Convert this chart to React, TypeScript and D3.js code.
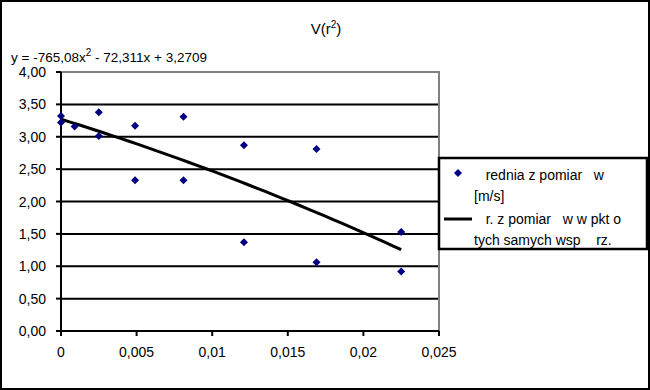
import * as d3 from "d3";
import { useEffect, useRef } from "react";

// measured points: x = r^2, y = velocity [m/s]
const xValues = [0, 0, 0.0009, 0.0025, 0.0025, 0.0049, 0.0049, 0.0081, 0.0081, 0.0121, 0.0121, 0.0169, 0.0169, 0.0225, 0.0225];
const yValues = [3.32, 3.22, 3.16, 3.38, 3.01, 3.17, 2.33, 3.31, 2.33, 2.87, 1.37, 2.81, 1.06, 1.53, 0.92];

// polynomial trendline coefficients (a x^2 + b x + c)
const trendCoefs = [-765.08, -72.311, 3.2709];
const trendRange = [0, 0.0225];

const yTicks = [0, 0.5, 1, 1.5, 2, 2.5, 3, 3.5, 4];
const xTicks = [0, 0.005, 0.01, 0.015, 0.02, 0.025];

const title = "V(r";
const legendLabels = [
  ["   rednia z pomiar   w", "[m/s]"],
  ["   r. z pomiar   w w pkt o", "tych samych wsp    rz."],
];

const W = 650;
const H = 390;

const App = () => {
  const ref = useRef<SVGSVGElement>(null);

  useEffect(() => {
    document.body.style.margin = "0";
    if (!ref.current) return;
    const svg = d3.select(ref.current);
    svg.selectAll("*").remove();
    const font = "Liberation Sans, Arial, sans-serif";

    svg.append("rect").attr("width", W).attr("height", H).attr("fill", "white");
    // outer frame
    svg.append("rect")
      .attr("x", 1).attr("y", 1).attr("width", W - 2).attr("height", H - 2)
      .attr("fill", "none").attr("stroke", "black").attr("stroke-width", 2);

    const x = d3.scaleLinear().domain([0, 0.025]).range([61, 439]);
    const y = d3.scaleLinear().domain([0, 4]).range([331, 72]);

    // title
    const t = svg.append("text")
      .attr("x", 326).attr("y", 34)
      .attr("text-anchor", "middle")
      .style("font-family", font).style("font-size", "15px")
      .text(title);
    t.append("tspan").attr("dy", -6).style("font-size", "10px").text("2");
    t.append("tspan").attr("dy", 6).text(")");

    // equation
    const eq = svg.append("text")
      .attr("x", 11).attr("y", 62)
      .style("font-family", font).style("font-size", "13.5px")
      .text(`y = ${trendCoefs[0].toString().replace(".", ",")}x`);
    eq.append("tspan").attr("dy", -6).style("font-size", "10px").text("2");
    eq.append("tspan").attr("dy", 6)
      .text(` - ${Math.abs(trendCoefs[1]).toString().replace(".", ",")}x + ${trendCoefs[2].toString().replace(".", ",")}`);

    const g = svg.append("g");

    // gridlines
    g.selectAll("line.grid")
      .data(yTicks.filter((d) => d > 0 && d < 4))
      .enter()
      .append("line")
      .attr("x1", x(0)).attr("x2", x(0.025))
      .attr("y1", (d) => y(d)).attr("y2", (d) => y(d))
      .attr("stroke", "black").attr("stroke-width", 2);

    // plot border top/right (gray)
    g.append("path")
      .attr("d", `M${x(0)},${y(4)}H${x(0.025)}V${y(0)}`)
      .attr("fill", "none").attr("stroke", "#808080").attr("stroke-width", 2);

    // axes
    g.append("line")
      .attr("x1", x(0)).attr("x2", x(0)).attr("y1", y(4)).attr("y2", y(0))
      .attr("stroke", "black").attr("stroke-width", 2);
    g.append("line")
      .attr("x1", x(0)).attr("x2", x(0.025)).attr("y1", y(0)).attr("y2", y(0))
      .attr("stroke", "black").attr("stroke-width", 2);

    // y ticks + labels
    g.selectAll("line.yt")
      .data(yTicks)
      .enter()
      .append("line")
      .attr("x1", x(0) - 5).attr("x2", x(0))
      .attr("y1", (d) => y(d)).attr("y2", (d) => y(d))
      .attr("stroke", "black").attr("stroke-width", 2);
    g.selectAll("text.yl")
      .data(yTicks)
      .enter()
      .append("text")
      .attr("x", 46).attr("y", (d) => y(d) + 5)
      .attr("text-anchor", "end")
      .style("font-family", font).style("font-size", "14px")
      .text((d) => d3.format(".2f")(d).replace(".", ","));

    // x ticks + labels
    g.selectAll("line.xt")
      .data(xTicks)
      .enter()
      .append("line")
      .attr("x1", (d) => x(d)).attr("x2", (d) => x(d))
      .attr("y1", y(0)).attr("y2", y(0) + 5)
      .attr("stroke", "black").attr("stroke-width", 2);
    g.selectAll("text.xl")
      .data(xTicks)
      .enter()
      .append("text")
      .attr("x", (d) => x(d)).attr("y", 357)
      .attr("text-anchor", "middle")
      .style("font-family", font).style("font-size", "14px")
      .text((d) => d.toString().replace(".", ","));

    // trendline
    const poly = (v: number) => trendCoefs[0] * v * v + trendCoefs[1] * v + trendCoefs[2];
    const samples = d3.range(0, 41).map((i) => trendRange[0] + ((trendRange[1] - trendRange[0]) * i) / 40);
    const line = d3.line<number>().x((d) => x(d)).y((d) => y(poly(d)));
    g.append("path")
      .attr("d", line(samples))
      .attr("fill", "none").attr("stroke", "black").attr("stroke-width", 3);

    // diamonds
    const diamond = "M0,-4L4,0L0,4L-4,0Z";
    g.selectAll("path.pt")
      .data(xValues.map((v, i) => [v, yValues[i]]))
      .enter()
      .append("path")
      .attr("d", diamond)
      .attr("transform", (d) => `translate(${x(d[0])},${y(d[1])})`)
      .attr("fill", "#000080");

    // legend
    const lg = svg.append("g");
    lg.append("rect")
      .attr("x", 439).attr("y", 158).attr("width", 208).attr("height", 91)
      .attr("fill", "white").attr("stroke", "black").attr("stroke-width", 2.5);
    lg.append("path").attr("d", diamond).attr("transform", "translate(458,173)").attr("fill", "#000080");
    lg.append("line")
      .attr("x1", 444).attr("x2", 472).attr("y1", 219).attr("y2", 219)
      .attr("stroke", "black").attr("stroke-width", 3);
    const rows = [[180, 201], [224, 245]];
    legendLabels.forEach((lab, i) => {
      lg.append("text")
        .attr("x", 474).attr("y", rows[i][0])
        .attr("xml:space", "preserve").style("white-space", "pre")
        .style("font-family", font).style("font-size", "14px")
        .text(lab[0]);
      lg.append("text")
        .attr("x", 474).attr("y", rows[i][1])
        .attr("xml:space", "preserve").style("white-space", "pre")
        .style("font-family", font).style("font-size", "14px")
        .text(lab[1]);
    });
  }, []);

  return <svg ref={ref} width={W} height={H} style={{ display: "block" }}></svg>;
};

export default App;
